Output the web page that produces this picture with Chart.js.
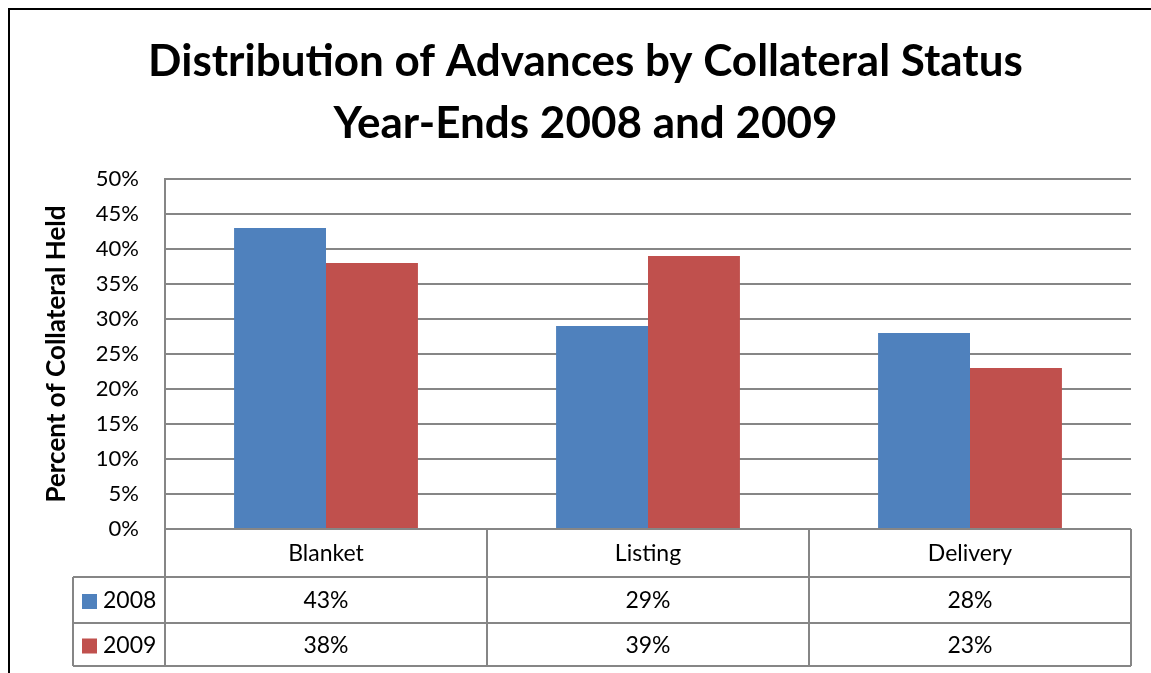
<!DOCTYPE html>
<html>
<head>
<meta charset="utf-8">
<script src="https://cdn.jsdelivr.net/npm/chart.js@4/dist/chart.umd.min.js"></script>
<style>
  html, body { margin: 0; padding: 0; background: #fff; }
  #wrap { width: 1151px; height: 673px; position: relative; }
</style>
</head>
<body>
<div id="wrap"><canvas id="chart"></canvas></div>
<script>
const categories = ['Blanket', 'Listing', 'Delivery'];
const seriesNames = ['2008', '2009'];
const values2008 = [43, 29, 28];
const values2009 = [38, 39, 23];
const seriesColors = ['#4F81BD', '#C0504D'];
const titleLines = ['Distribution of Advances by Collateral Status', 'Year-Ends 2008 and 2009'];
const yAxisTitle = 'Percent of Collateral Held';

const FONT = 'Lato, "Open Sans", sans-serif';
const GRID = '#868686';

// frame + data table under the plot (Excel style)
const tablePlugin = {
  id: 'dataTable',
  beforeDraw(chart) {
    const ctx = chart.ctx;
    ctx.save();
    ctx.fillStyle = '#fff';
    ctx.fillRect(0, 0, chart.width, chart.height);
    ctx.strokeStyle = '#000';
    ctx.lineWidth = 2;
    ctx.strokeRect(9, 9, chart.width + 20, chart.height + 20);
    ctx.restore();
  },
  afterDraw(chart) {
    const ctx = chart.ctx;
    const x = chart.scales.x;
    const area = chart.chartArea;
    const n = categories.length;
    const colW = (area.right - area.left) / n;
    const top = area.bottom;
    const rowCat = top + 48;
    const row1 = rowCat + 46;
    const row2 = row1 + 43;
    const legendLeft = 73;

    ctx.save();
    ctx.strokeStyle = GRID;
    ctx.lineWidth = 2;
    ctx.beginPath();
    // horizontal lines
    ctx.moveTo(area.left, top); ctx.lineTo(area.right, top);
    [rowCat, row1, row2].forEach(y => { ctx.moveTo(legendLeft, y); ctx.lineTo(area.right, y); });
    // vertical lines
    ctx.moveTo(legendLeft, rowCat); ctx.lineTo(legendLeft, row2);
    for (let i = 0; i <= n; i++) {
      const vx = Math.round(area.left + i * colW);
      ctx.moveTo(vx, top); ctx.lineTo(vx, row2);
    }
    ctx.stroke();

    ctx.fillStyle = '#000';
    ctx.font = '23px ' + FONT;
    ctx.textBaseline = 'middle';
    ctx.textAlign = 'center';
    categories.forEach((c, i) => {
      const cx = x.getPixelForValue(i);
      ctx.fillText(c, cx, (top + rowCat) / 2 + 1);
    });
    const rows = [[rowCat, row1], [row1, row2]];
    chart.data.datasets.forEach((ds, d) => {
      const cy = (rows[d][0] + rows[d][1]) / 2 + 1;
      ctx.fillStyle = ds.backgroundColor;
      ctx.fillRect(82, cy - 7, 15, 15);
      ctx.fillStyle = '#000';
      ctx.textAlign = 'left';
      ctx.fillText(ds.label, 103, cy);
      ctx.textAlign = 'center';
      ds.data.forEach((v, i) => {
        ctx.fillText(v + '%', x.getPixelForValue(i), cy);
      });
    });
    ctx.restore();
  }
};

new Chart(document.getElementById('chart'), {
  type: 'bar',
  data: {
    labels: categories,
    datasets: [
      { label: seriesNames[0], data: values2008, backgroundColor: seriesColors[0] },
      { label: seriesNames[1], data: values2009, backgroundColor: seriesColors[1] }
    ]
  },
  options: {
    responsive: true,
    maintainAspectRatio: false,
    animation: false,
    layout: { padding: { left: 40, right: 20, top: 0, bottom: 0 } },
    datasets: { bar: { categoryPercentage: 0.571, barPercentage: 1.0 } },
    plugins: {
      legend: { display: false },
      tooltip: { enabled: false },
      title: {
        display: true,
        text: titleLines,
        color: '#000',
        font: { family: FONT, size: 44, weight: 'bold', lineHeight: 1.41 },
        padding: { top: 31, bottom: 24 }
      }
    },
    scales: {
      x: {
        grid: { display: false },
        border: { display: false },
        ticks: { display: false },
        afterFit(s) { s.height = 144; }
      },
      y: {
        min: 0,
        max: 50,
        ticks: {
          stepSize: 5,
          padding: 26,
          color: '#000',
          font: { family: FONT, size: 22 },
          callback: v => v + '%'
        },
        grid: { color: GRID, lineWidth: 2, drawTicks: false },
        border: { display: true, color: GRID, width: 2 },
        title: {
          display: true,
          text: yAxisTitle,
          color: '#000',
          font: { family: FONT, size: 26, weight: 'bold', lineHeight: 1.2 },
          padding: { top: 1, bottom: 0 }
        },
        afterFit(s) { s.width = 125; }
      }
    }
  },
  plugins: [tablePlugin]
});
</script>
</body>
</html>
